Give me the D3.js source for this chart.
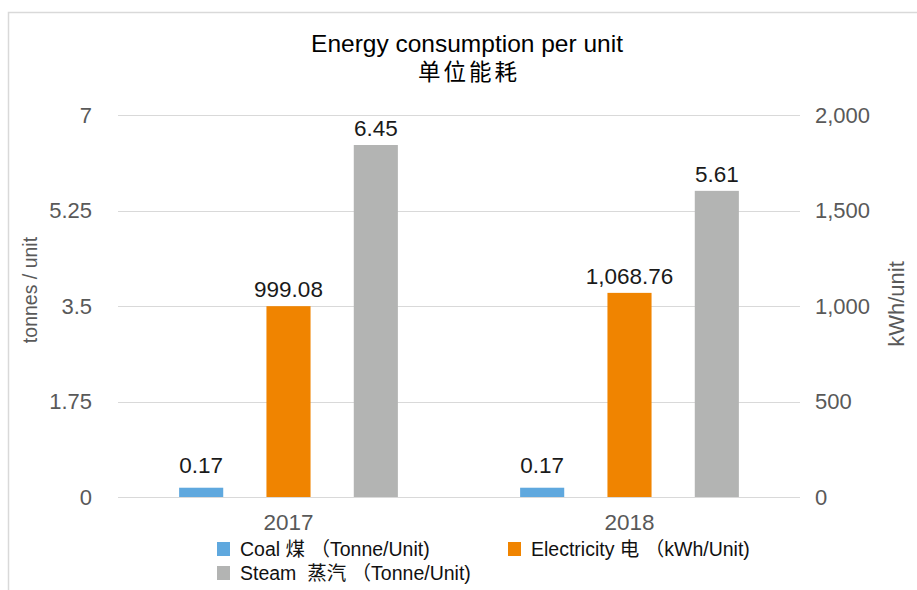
<!DOCTYPE html>
<html>
<head>
<meta charset="utf-8">
<script src="https://cdn.jsdelivr.net/npm/d3@7"></script>
<style>
  body { margin: 0; background: #fff; }
  svg text { font-family: "Liberation Sans", Arial, "Noto Sans CJK SC", sans-serif; }
</style>
</head>
<body>
<svg id="chart" width="917" height="590"></svg>
<script>
// Chart data
const years = ['2017', '2018'];
const coal = [0.17, 0.17];            // tonnes / unit (left axis)
const electricity = [999.08, 1068.76]; // kWh / unit (right axis)
const steam = [6.45, 5.61];           // tonnes / unit (left axis)
const leftTicks = [0, 1.75, 3.5, 5.25, 7];
const rightTicks = [0, 500, 1000, 1500, 2000];

const series = [
    { key: 'coal', values: coal, axis: 'left', color: '#5fa8de', label: 'Coal 煤 （Tonne/Unit)', fmt: d3.format('.2f') },
    { key: 'elec', values: electricity, axis: 'right', color: '#f08400', label: 'Electricity 电 （kWh/Unit)', fmt: d3.format(',.2f') },
    { key: 'steam', values: steam, axis: 'left', color: '#b3b4b3', label: 'Steam  蒸汽 （Tonne/Unit)', fmt: d3.format('.2f') }
];

const svg = d3.select('#chart');
const margin = { left: 118, right: 117, top: 115, bottom: 93 };
const width = 917, height = 590;
const x0 = margin.left, x1 = width - margin.right;
const yTop = margin.top, yBot = height - margin.bottom;
const tickColor = '#595959';

// Frame
svg.append('path')
    .attr('d', `M8.5,${height} V12.5 H${width}`)
    .attr('fill', 'none').attr('stroke', '#d9d9d9').attr('stroke-width', 1.5);

const yLeft = d3.scaleLinear().domain([0, 7]).range([yBot, yTop]);
const yRight = d3.scaleLinear().domain([0, 2000]).range([yBot, yTop]);
const xBand = d3.scaleBand().domain(years).range([x0, x1]);
const xInner = d3.scaleBand().domain(series.map(s => s.key))
    .range([0, xBand.bandwidth()]).paddingInner(0.495).paddingOuter(0.7);

// Gridlines
svg.append('g').selectAll('line').data(leftTicks).join('line')
    .attr('x1', x0).attr('x2', x1)
    .attr('y1', d => Math.round(yLeft(d)) + 0.5).attr('y2', d => Math.round(yLeft(d)) + 0.5)
    .attr('stroke', '#d9d9d9').attr('stroke-width', 1.2);

// Left axis
const leftAxis = svg.append('g').attr('transform', `translate(${x0 - 26},0)`)
    .call(d3.axisLeft(yLeft).tickValues(leftTicks).tickSize(0).tickPadding(0).tickFormat(d => String(d)));
leftAxis.select('.domain').remove();
leftAxis.selectAll('text').attr('fill', tickColor).style('font-size', '22px');

// Right axis
const rightAxis = svg.append('g').attr('transform', `translate(${x1 + 15},0)`)
    .call(d3.axisRight(yRight).tickValues(rightTicks).tickSize(0).tickPadding(0).tickFormat(d3.format(',')));
rightAxis.select('.domain').remove();
rightAxis.selectAll('text').attr('fill', tickColor).style('font-size', '22px');

// Axis titles
svg.append('text')
    .attr('transform', `translate(37,290) rotate(-90)`)
    .attr('text-anchor', 'middle').attr('fill', tickColor).style('font-size', '19.5px')
    .text('tonnes / unit');
svg.append('text')
    .attr('transform', `translate(904,304) rotate(-90)`)
    .attr('text-anchor', 'middle').attr('fill', tickColor).style('font-size', '22px')
    .text('kWh/unit');

// Category labels
svg.append('g').selectAll('text').data(years).join('text')
    .attr('x', d => xBand(d) + xBand.bandwidth() / 2)
    .attr('y', yBot + 33)
    .attr('text-anchor', 'middle').attr('fill', tickColor).style('font-size', '22.5px')
    .text(d => d);

// Bars + labels
series.forEach(s => {
    const y = s.axis === 'left' ? yLeft : yRight;
    const g = svg.append('g');
    g.selectAll('rect').data(years).join('rect')
        .attr('x', d => xBand(d) + xInner(s.key))
        .attr('width', xInner.bandwidth())
        .attr('y', (d, i) => y(s.values[i]))
        .attr('height', (d, i) => yBot - y(s.values[i]))
        .attr('fill', s.color);
    g.selectAll('text').data(years).join('text')
        .attr('x', d => xBand(d) + xInner(s.key) + xInner.bandwidth() / 2)
        .attr('y', (d, i) => y(s.values[i]) - (s.key === 'coal' ? 15 : 9))
        .attr('text-anchor', 'middle').attr('fill', '#1a1a1a').style('font-size', '22.5px')
        .text((d, i) => s.fmt(s.values[i]));
});

// Title
svg.append('text').attr('x', 467).attr('y', 52).attr('text-anchor', 'middle')
    .attr('fill', '#000').style('font-size', '24.5px')
    .text('Energy consumption per unit');
svg.append('text').attr('x', 469).attr('y', 80).attr('text-anchor', 'middle')
    .attr('fill', '#000').style('font-size', '22.5px')
    .style('font-family', '"Noto Sans CJK SC", sans-serif').style('letter-spacing', '3px')
    .text('单位能耗');

// Legend
const legendPos = [[217, 549], [508, 549], [217, 573]];
const legend = svg.append('g').selectAll('g').data(series).join('g')
    .attr('transform', (d, i) => `translate(${legendPos[i][0]},${legendPos[i][1]})`);
legend.append('rect').attr('x', 0).attr('y', -7).attr('width', 13).attr('height', 14)
    .attr('fill', d => d.color);
legend.append('text').attr('x', 23).attr('y', 7)
    .attr('fill', '#111').style('font-size', '19.5px').style('white-space', 'pre')
    .text(d => d.label);
</script>
</body>
</html>
